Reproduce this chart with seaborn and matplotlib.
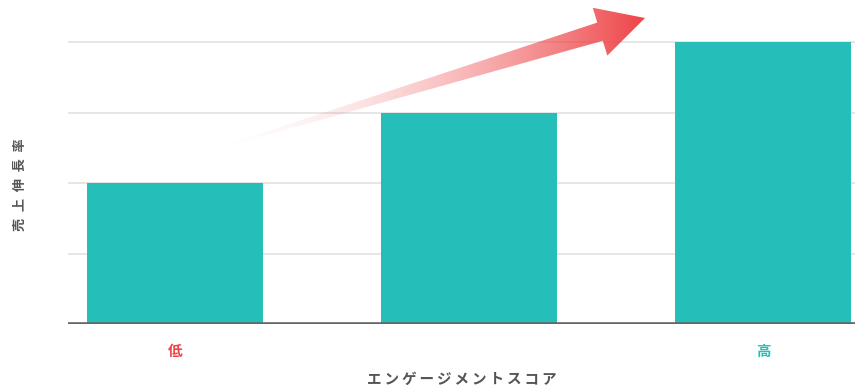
import numpy as np
import matplotlib
matplotlib.use("Agg")
import matplotlib.pyplot as plt
import seaborn as sns
import pandas as pd
from matplotlib.patches import Polygon

# ---- data ----
categories = ["低", "中", "高"]
values = [2, 3, 4]
tick_labels = ["低", "", "高"]
x_label = "エンゲージメントスコア"
y_label = "売上伸長率"

TEAL = "#26BEB9"
RED = "#EE4346"
LABEL_GRAY = "#555555"

sns.set_theme(style="white")
plt.rcParams['font.family'] = ['Noto Sans CJK JP', 'DejaVu Sans']

W, H = 855, 387
fig = plt.figure(figsize=(W / 100, H / 100), dpi=100)
ax_left, ax_right, ax_bottom, ax_top = 68, 855, 324, 0
ax = fig.add_axes([ax_left / W, (H - ax_bottom) / H, (ax_right - ax_left) / W, (ax_bottom - ax_top) / H])

df = pd.DataFrame({"cat": categories, "val": values})
sns.barplot(data=df, x="cat", y="val", color=TEAL, saturation=1, width=0.6, ax=ax, zorder=3)
for p in ax.patches:
    p.set_edgecolor("none")

unit_x, unit_y = 294.0, 70.4
x0_px = 175
ax.set_xlim((ax_left - x0_px) / unit_x, (ax_right - x0_px) / unit_x)
ax.set_ylim(0, (ax_bottom - ax_top) / unit_y)

for gy in [1, 2, 3, 4]:
    ax.axhline(gy, color="#e2e2e2", lw=1.2, zorder=1)
ax.axhline(0, color="#666666", lw=2.6, zorder=4)

for s in ax.spines.values():
    s.set_visible(False)
ax.set_yticks([])
ax.set_xticks(range(len(categories)))
ax.set_xticklabels(tick_labels)
ax.tick_params(axis="x", length=0, pad=14)
for lab, c in zip(ax.get_xticklabels(), [RED, TEAL, TEAL]):
    lab.set_color(c)
    lab.set_fontsize(10.5)
    lab.set_fontweight("bold")
ax.set_xlabel("")
ax.set_ylabel("")

fig.text(462 / W, 1 - 379 / H, "\u2009".join(x_label), fontsize=10.5, color=LABEL_GRAY,
         fontweight="bold", ha="center", va="center")
fig.text(20 / W, 1 - 185 / H, "\u2002".join(y_label), fontsize=9.5, color=LABEL_GRAY,
         fontweight="bold", ha="center", va="center", rotation=90)

# ---- gradient arrow (decoration), defined in pixel space ----
def px2data(px, py):
    return ((px - x0_px) / unit_x, (ax_bottom - py) / unit_y)

S = np.array([205.0, 152.0])
T = np.array([645.0, 18.0])
d = (T - S) / np.linalg.norm(T - S)
n = np.array([-d[1], d[0]])
if n[1] < 0:
    n = -n
B = T - d * 47
shaft_w, head_w = 9.5, 25.0
pts_px = [S - n * 0.3, B - n * shaft_w, B - n * head_w, T, B + n * head_w, B + n * shaft_w, S + n * 0.3]
pts = [px2data(*p) for p in pts_px]
poly = Polygon(pts, closed=True, facecolor="none", edgecolor="none", zorder=5)
ax.add_patch(poly)

xs = [p[0] for p in pts]
ys = [p[1] for p in pts]
nx = 400
grad = np.linspace(0, 1, nx) ** 1.8
rgb = matplotlib.colors.to_rgb(RED)
img = np.zeros((2, nx, 4))
img[..., 0] = rgb[0]
img[..., 1] = rgb[1]
img[..., 2] = rgb[2]
img[..., 3] = grad[None, :]
im = ax.imshow(img, extent=[min(xs), max(xs), min(ys), max(ys)], aspect="auto",
               origin="lower", zorder=5, interpolation="bilinear")
im.set_clip_path(poly)
ax.set_xlim((ax_left - x0_px) / unit_x, (ax_right - x0_px) / unit_x)
ax.set_ylim(0, (ax_bottom - ax_top) / unit_y)

fig.savefig("out.png", dpi=100, facecolor="white")
